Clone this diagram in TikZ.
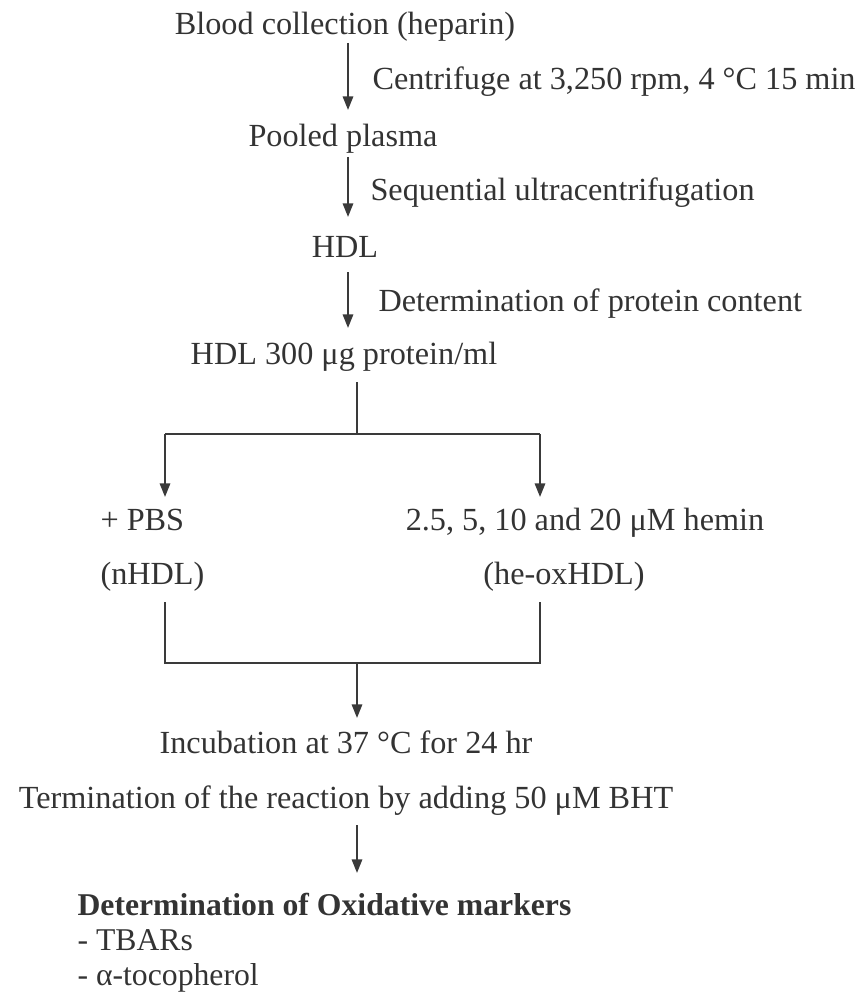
\documentclass[tikz,border=0pt]{standalone}
\usepackage{fontspec}
\setmainfont{Liberation Serif}
\usetikzlibrary{arrows.meta}
\definecolor{ink}{HTML}{333333}
\definecolor{wire}{HTML}{3A3A3A}
\tikzset{
  lbl/.style={inner sep=0pt, text=ink, font=\fontsize{11.8}{14}\selectfont, anchor=base},
  lbll/.style={lbl, anchor=base west},
  readout/.style={inner sep=0pt, text=ink, font=\fontsize{11.6}{13}\selectfont, anchor=base west},
  wireline/.style={draw=wire, line width=0.75pt},
  arr/.style={wireline, -{Triangle[width=3.8pt,length=5pt]}}
}
\begin{document}
\begin{tikzpicture}[x=0.366pt, y=-0.366pt]
  \useasboundingbox (0,0) rectangle (862,998);

  % sequential steps
  \node[lbl] (blood) at (345,35) {Blood collection (heparin)};
  \node[lbll] (cfg) at (372,90) {Centrifuge at 3,250 rpm, 4 °C 15 min};
  \node[lbl] (plasma) at (343,146) {Pooled plasma};
  \node[lbll] (ultra) at (370,200) {Sequential ultracentrifugation};
  \node[lbl] (hdl) at (345,257) {HDL};
  \node[lbll] (prot) at (378,311) {Determination of protein content};
  \node[lbl] (hdl300) at (344,364) {HDL 300 μg protein/ml};

  % two branches
  \node[lbll] (pbs) at (100,530) {+ PBS};
  \node[lbll] (nhdl) at (100,584) {(nHDL)};
  \node[lbl] (hemin) at (585,530) {2.5, 5, 10 and 20 μM hemin};
  \node[lbl] (oxhdl) at (564,584) {(he-oxHDL)};

  % incubation and termination
  \node[lbl] (incub) at (346,753) {Incubation at 37 °C for 24 hr};
  \node[lbl] (term) at (346,808) {Termination of the reaction by adding 50 μM BHT};

  % read-out
  \node[readout, font=\fontsize{11.6}{13}\selectfont\bfseries] (ox) at (77,915) {Determination of Oxidative markers};
  \node[readout] (tbars) at (77,950) {- TBARs};
  \node[readout] (toco) at (77,985) {- α-tocopherol};

  % arrow ends of the straight steps
  \coordinate (a1s) at (348,43);  \coordinate (a1e) at (348,110);
  \coordinate (a2s) at (348,157); \coordinate (a2e) at (348,217);
  \coordinate (a3s) at (348,272); \coordinate (a3e) at (348,328);
  \coordinate (a4e) at (357,718);
  \coordinate (a5s) at (357,825); \coordinate (a5e) at (357,873);

  % junction points of the splitting and merging bars
  \coordinate (splitTop) at (357,382);
  \coordinate (split) at (357,434);
  \coordinate (splitL) at (165,434);
  \coordinate (splitR) at (540,434);
  \coordinate (tipL) at (165,497);
  \coordinate (tipR) at (540,497);
  \coordinate (joinL0) at (165,602);
  \coordinate (joinR0) at (540,602);
  \coordinate (joinL) at (165,663);
  \coordinate (joinR) at (540,663);
  \coordinate (join) at (357,663);

  % connectors
  \draw[arr] (a1s) -- (a1e);
  \draw[arr] (a2s) -- (a2e);
  \draw[arr] (a3s) -- (a3e);

  \draw[wireline] (splitTop) -- (split);
  \draw[wireline] (splitL) -- (splitR);
  \draw[arr] (splitL) -- (tipL);
  \draw[arr] (splitR) -- (tipR);

  \draw[wireline] (joinL0) -- (joinL) -- (joinR) -- (joinR0);
  \draw[arr] (join) -- (a4e);
  \draw[arr] (a5s) -- (a5e);
\end{tikzpicture}
\end{document}
